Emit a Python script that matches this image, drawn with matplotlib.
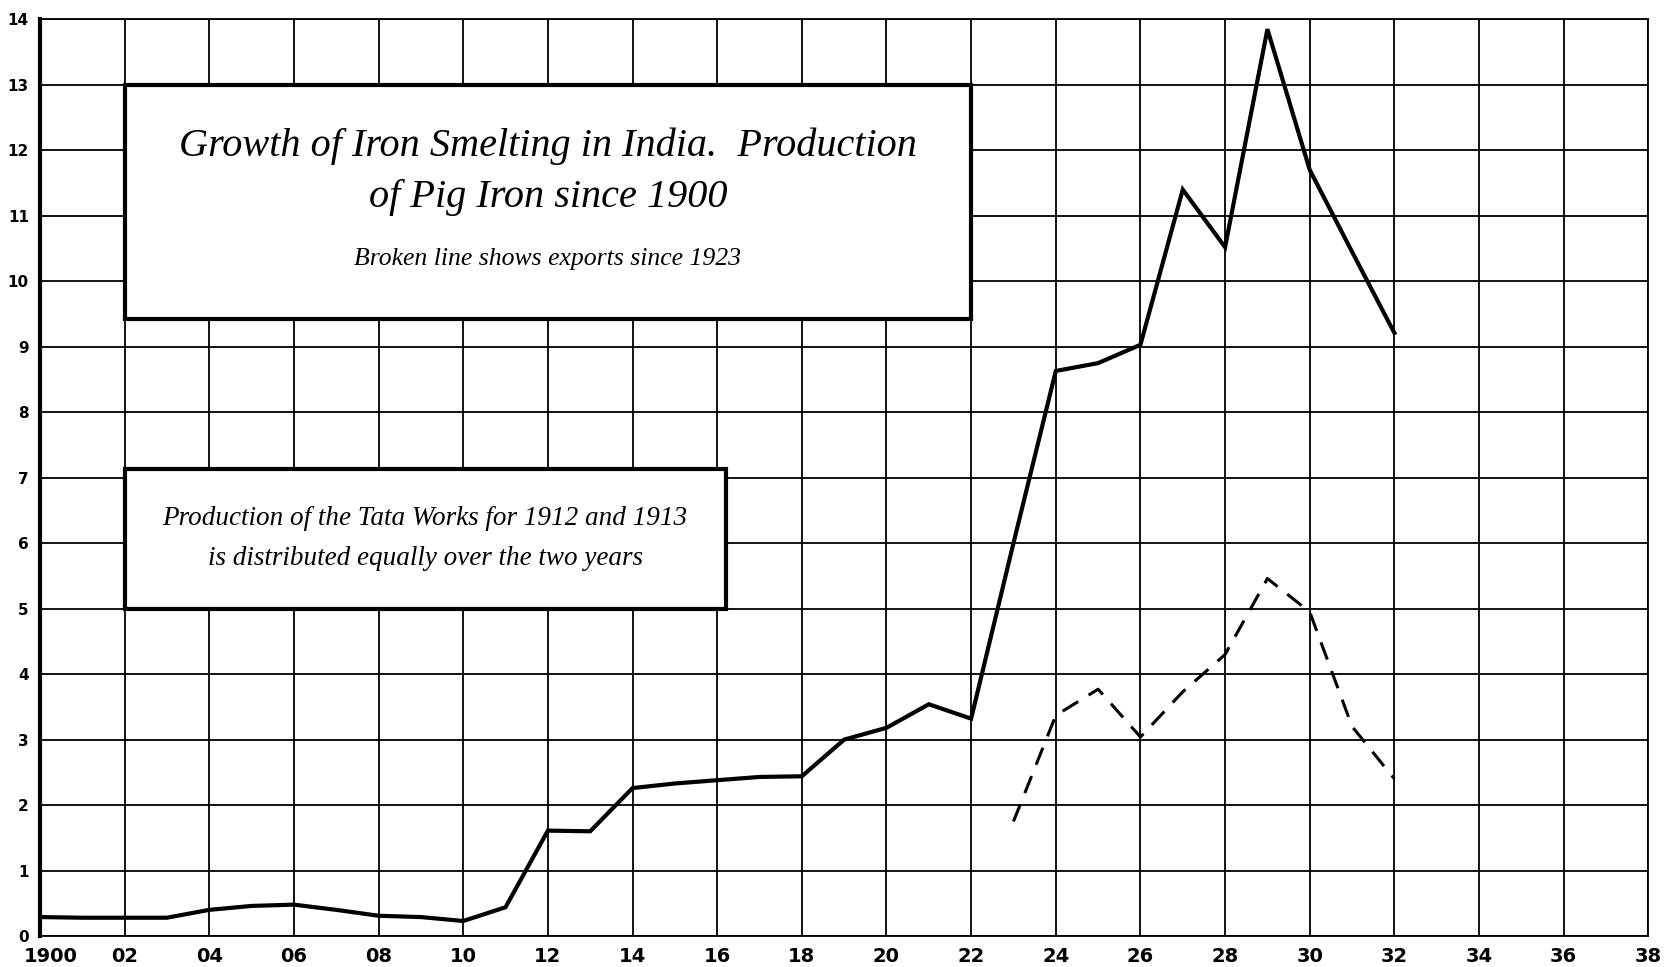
import matplotlib.pyplot as plt
import matplotlib.transforms as mtransforms
from matplotlib.patches import Rectangle

# production of pig iron (solid line) and exports (broken line)
years = list(range(1900, 1933))
production = [0.29, 0.28, 0.28, 0.28, 0.40, 0.46, 0.48, 0.40, 0.31, 0.29,
              0.23, 0.44, 1.61, 1.60, 2.26, 2.33, 2.38, 2.43, 2.44, 3.00,
              3.18, 3.54, 3.32, 6.00, 8.63, 8.75, 9.03, 11.40, 10.52, 13.85,
              11.70, 10.45, 9.21]
export_years = list(range(1923, 1933))
exports = [1.75, 3.37, 3.77, 3.04, 3.73, 4.30, 5.46, 4.95, 3.20, 2.40]

x_ticks = list(range(1900, 1939, 2))
x_labels = ["1900"] + ["%02d" % (t % 100) for t in x_ticks[1:]]
y_ticks = list(range(0, 15))

title = "Growth of Iron Smelting in India.  Production\nof Pig Iron since 1900"
subtitle = "Broken line shows exports since 1923"
note = "Production of the Tata Works for 1912 and 1913\nis distributed equally over the two years"

fig = plt.figure(figsize=(16.65, 9.67), dpi=100)
ax = fig.add_axes([0.024, 0.032, 0.966, 0.948])

ax.set_xlim(1900, 1938)
ax.set_ylim(0, 14)
ax.set_xticks(x_ticks)
ax.set_xticklabels(x_labels, fontsize=14, fontweight='bold')
ax.set_yticks(y_ticks)
ax.set_yticklabels([str(v) for v in y_ticks], fontsize=11, fontweight='bold')
ax.tick_params(axis='x', length=0, pad=8)
ax.tick_params(axis='y', length=0, pad=8)
# nudge "1900" a little to the right, clear of the "0"
lbl = ax.get_xticklabels()[0]
lbl.set_transform(lbl.get_transform() +
                  mtransforms.ScaledTranslation(8 / 72, 0, fig.dpi_scale_trans))
ax.grid(True, color='black', linewidth=1.3)
ax.set_axisbelow(True)
for side in ['top', 'right', 'bottom']:
    ax.spines[side].set_linewidth(1.3)
ax.spines['left'].set_linewidth(3)

ax.plot(years, production, color='black', linewidth=3, zorder=4,
        solid_joinstyle='miter')
ax.plot(export_years, exports, color='black', linewidth=2.2, zorder=4,
        dashes=(6, 4))

# title box
ax.add_patch(Rectangle((1902, 9.42), 20, 3.58, facecolor='white',
                       edgecolor='black', linewidth=3, zorder=3))
ax.text(1912, 11.68, title, ha='center', va='center', fontsize=29,
        fontstyle='italic', family='Liberation Serif', linespacing=1.5,
        zorder=5)
ax.text(1912, 10.34, subtitle, ha='center', va='center', fontsize=18.5,
        fontstyle='italic', family='Liberation Serif', zorder=5)

# note box
ax.add_patch(Rectangle((1902, 5.0), 14.2, 2.13, facecolor='white',
                       edgecolor='black', linewidth=3, zorder=3))
ax.text(1909.1, 6.07, note, ha='center', va='center', fontsize=19.5,
        fontstyle='italic', family='Liberation Serif', linespacing=1.75,
        zorder=5)

fig.savefig('out.png', dpi=100, facecolor='white')
